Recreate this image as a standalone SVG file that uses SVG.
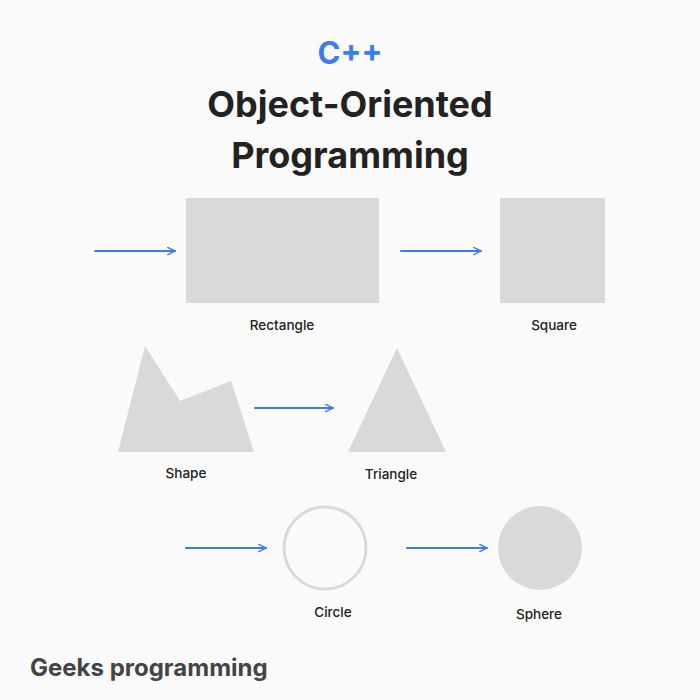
<svg xmlns="http://www.w3.org/2000/svg" width="700" height="700" viewBox="0 0 700 700">
<style>
.t{font-family:Inter,"Noto Sans",sans-serif;font-weight:700;text-anchor:middle;fill:#222}
.l{font-family:Inter,"Noto Sans",sans-serif;font-size:13.5px;font-weight:500;text-anchor:middle;fill:#222}
.s{fill:#d9d9d9}
.a{stroke:#3b7cf0;stroke-width:2;fill:none;stroke-linecap:round}
</style>
<defs><marker id="h" viewBox="0 0 10 10" refX="9" refY="5" markerWidth="9" markerHeight="9" markerUnits="userSpaceOnUse" orient="auto"><path d="M1,1 L9,5 L1,9" fill="none" stroke="#3b7cf0" stroke-width="1.6" stroke-linecap="round"/></marker></defs>
<rect width="700" height="700" fill="#fafafa"/>
<text class="t" x="350" y="64" font-size="31" style="fill:#3b7cf0">C++</text>
<text class="t" x="350" y="117" font-size="36">Object-Oriented</text>
<text class="t" x="350" y="168" font-size="36">Programming</text>
<g id="connectors">
<path class="a" marker-end="url(#h)" d="M95,251H175"/>
<path class="a" marker-end="url(#h)" d="M401,251H481"/>
<path class="a" marker-end="url(#h)" d="M255,408H333"/>
<path class="a" marker-end="url(#h)" d="M186,548H266"/>
<path class="a" marker-end="url(#h)" d="M407,548H487"/>
</g>
<g id="rectangle"><rect class="s" x="186" y="198" width="193" height="105"/><text class="l" x="282" y="330">Rectangle</text></g>
<g id="square"><rect class="s" x="500" y="198" width="105" height="105"/><text class="l" x="554" y="330">Square</text></g>
<g id="shape"><polygon class="s" points="145,346 180,401 231,381 254,452 118,452"/><text class="l" x="186" y="478">Shape</text></g>
<g id="triangle"><polygon class="s" points="397,348 446,452 348,452"/><text class="l" x="391" y="479">Triangle</text></g>
<g id="circle"><circle cx="325" cy="548" r="41" fill="#fafafa" stroke="#d9d9d9" stroke-width="3"/><text class="l" x="333" y="617">Circle</text></g>
<g id="sphere"><circle class="s" cx="540" cy="548" r="42"/><text class="l" x="539" y="619">Sphere</text></g>
<text class="t" x="30" y="676" font-size="24" style="text-anchor:start;fill:#444">Geeks programming</text>
</svg>
